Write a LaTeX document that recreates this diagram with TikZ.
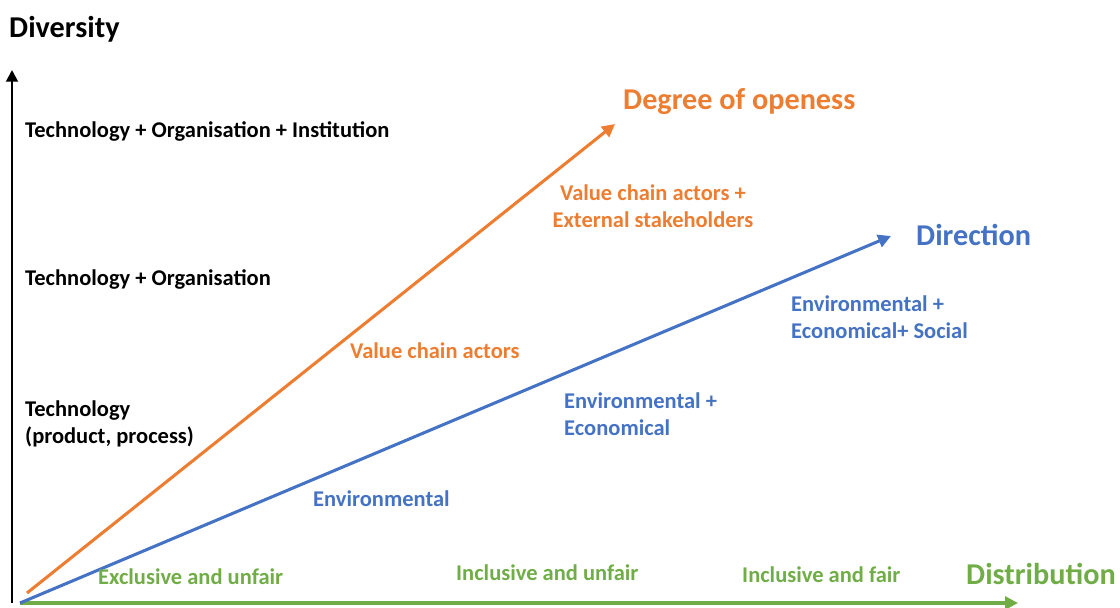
\documentclass[tikz,border=0pt]{standalone}
\usepackage{fontspec}
\setmainfont{Carlito}
\usetikzlibrary{arrows.meta}
\definecolor{corange}{HTML}{ED7D31}
\definecolor{cblue}{HTML}{4472C4}
\definecolor{cgreen}{HTML}{70AD47}
\begin{document}
\begin{tikzpicture}[x=0.03cm,y=-0.03cm,
  lbl/.style={font=\fontsize{19.2}{23}\selectfont\bfseries, inner sep=0pt, anchor=west, align=left},
  ttl/.style={font=\fontsize{25.8}{30}\selectfont\bfseries, inner sep=0pt, anchor=west},
  axis/.style={line width=2.6pt, -{Triangle[length=11pt,width=11pt]}}]
\useasboundingbox (0,0) rectangle (1120,607);
% axes
\coordinate (o) at (20,603);
\coordinate (vb) at (12,603);
\coordinate (vt) at (12,70);
\coordinate (he) at (1018,603);
\coordinate (os) at (27,593);
\coordinate (oe) at (615,124);
\coordinate (be) at (891,236);
\draw[line width=2.3pt, -{Triangle[length=10pt,width=10pt]}] (vb) -- (vt);
\draw[axis, cgreen] (o) -- (he);
\draw[axis, corange] (os) -- (oe);
\draw[axis, cblue] (o) -- (be);
% titles
\node[ttl] (div) at (9,29) {Diversity};
\node[ttl, corange] (deg) at (623,102) {Degree of openess};
\node[ttl, cblue] (dir) at (916,235) {Direction};
\node[ttl, cgreen] (dis) at (966,574) {Distribution};
% diversity labels
\node[lbl] (t3) at (25,131) {Technology + Organisation + Institution};
\node[lbl] (t2) at (25,279) {Technology + Organisation};
\node[lbl] (t1) at (25,424) {Technology\\(product, process)};
% openness labels
\node[lbl, corange, anchor=center, align=center] (o2) at (653,206) {Value chain actors +\\External stakeholders};
\node[lbl, corange] (o1) at (350,351) {Value chain actors};
% direction labels
\node[lbl, cblue] (d3) at (791,317) {Environmental +\\Economical+ Social};
\node[lbl, cblue] (d2) at (564,414) {Environmental +\\Economical};
\node[lbl, cblue] (d1) at (313,499) {Environmental};
% distribution labels
\node[lbl, cgreen] (g1) at (98,577) {Exclusive and unfair};
\node[lbl, cgreen] (g2) at (456,573) {Inclusive and unfair};
\node[lbl, cgreen] (g3) at (742,575) {Inclusive and fair};
\end{tikzpicture}
\end{document}
